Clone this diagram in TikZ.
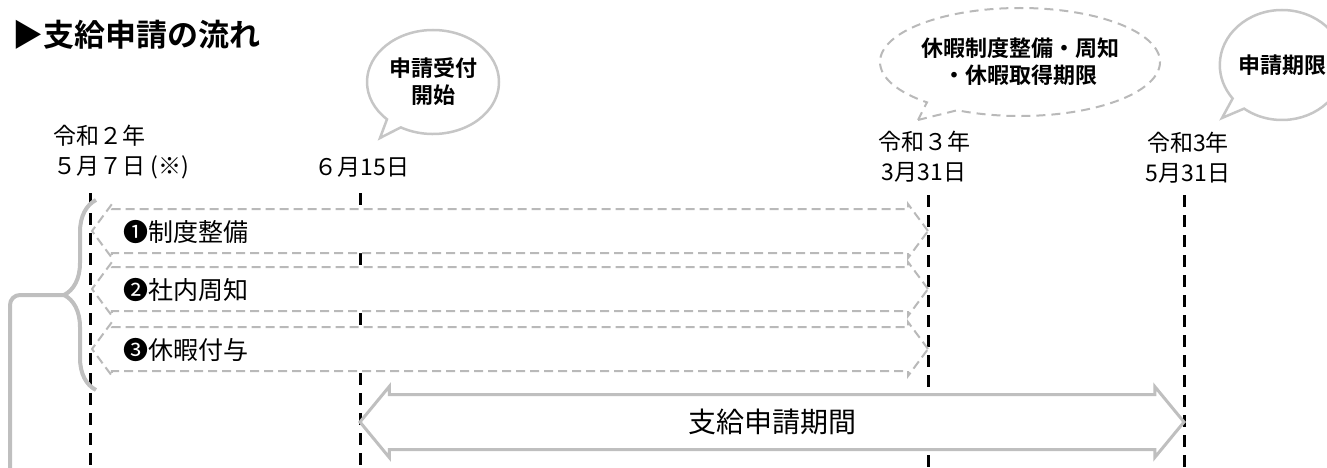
\documentclass[tikz,border=0pt]{standalone}
\usepackage{fontspec}
\setmainfont{Noto Sans CJK JP}[BoldFont={Noto Sans CJK JP Bold}]
\usetikzlibrary{shapes.arrows,shapes.callouts,decorations.pathreplacing}

\begin{document}
\begin{tikzpicture}[x=1pt, y=-1pt,
    dateline/.style={line width=3pt, dash pattern=on 12pt off 8pt},
    datelabel/.style={font=\fontsize{23}{30}\selectfont, align=left, inner sep=0pt},
    period/.style={double arrow, draw=gray!55, line width=2pt, dash pattern=on 9pt off 5pt,
        fill=white, minimum height=836pt, text height=21pt, text depth=21pt, text width=0pt,
        double arrow head extend=5pt, double arrow tip angle=107, inner sep=0pt},
    steplabel/.style={font=\fontsize{25}{30}\selectfont, anchor=west, inner sep=0pt},
    bubble/.style={ellipse callout, draw=gray!45, line width=2.5pt, fill=white,
        font=\bfseries\fontsize{22}{27}\selectfont, align=center, inner sep=0pt},
    braceline/.style={draw=gray!50, line width=4pt}]
    \useasboundingbox (0, 0) rectangle (1327, 468);

    % Title
    \node [anchor=west, inner sep=0pt, font=\bfseries\fontsize{31}{36}\selectfont] (title) at (12, 35) {▶支給申請の流れ};

    % Dates
    \node [datelabel, anchor=west] (d1) at (53, 152) {令和２年\\５月７日 (※)};
    \node [datelabel] (d2) at (362, 167) {６月15日};
    \node [datelabel, align=center] (d3) at (924, 157) {令和３年\\3月31日};
    \node [datelabel, align=center] (d4) at (1188, 158) {令和3年\\5月31日};

    % Date lines
    \coordinate (l1t) at (90, 193);  \coordinate (l1b) at (90, 468);
    \coordinate (l2t) at (360, 193); \coordinate (l2b) at (360, 468);
    \coordinate (l3t) at (928, 195); \coordinate (l3b) at (928, 468);
    \coordinate (l4t) at (1184, 195); \coordinate (l4b) at (1184, 468);
    \draw [dateline] (l1t) -- (l1b);
    \draw [dateline] (l2t) -- (l2b);
    \draw [dateline] (l3t) -- (l3b);
    \draw [dateline] (l4t) -- (l4b);

    % Steps
    \node [period] (a1) at (510, 231) {};
    \node [period] (a2) at (510, 289) {};
    \node [period] (a3) at (510, 349) {};
    \node [steplabel] (s1) at (123, 232) {❶制度整備};
    \node [steplabel] (s2) at (123, 290) {❷社内周知};
    \node [steplabel] (s3) at (123, 350) {❸休暇付与};

    % Brace
    \coordinate (bt) at (96, 200);
    \coordinate (bb) at (96, 390);
    \coordinate (bm) at (64, 295);
    \coordinate (bl) at (10, 470);
    \draw [braceline, decorate, decoration={brace, amplitude=32pt}] (bb) -- (bt);
    \draw [braceline, rounded corners=10pt] (bm) -| (bl);

    % Application period
    \node [double arrow, draw=gray!50, line width=3pt, fill=white, minimum height=824pt,
        text height=26pt, text depth=26pt, double arrow head extend=8pt, double arrow tip angle=101,
        inner sep=0pt, font=\fontsize{28}{32}\selectfont] (ap) at (772, 422) {\raisebox{-10pt}{支給申請期間}};

    % Callouts
    \coordinate (p1) at (380, 138);
    \coordinate (p2) at (918, 120);
    \coordinate (p3) at (1222, 118);
    \node [bubble, minimum width=132pt, minimum height=104pt, callout absolute pointer={(p1)}] (c1) at (433, 82) {申請受付\\開始};
    \node [bubble, draw=gray!55, line width=2pt, dash pattern=on 9pt off 6pt, minimum width=254pt,
        minimum height=108pt, callout absolute pointer={(p2)}] (c2) at (1020, 62) {休暇制度整備・周知\\・休暇取得期限};
    \node [bubble, minimum width=116pt, minimum height=110pt, callout absolute pointer={(p3)}] (c3) at (1282, 65) {申請期限};
\end{tikzpicture}
\end{document}
